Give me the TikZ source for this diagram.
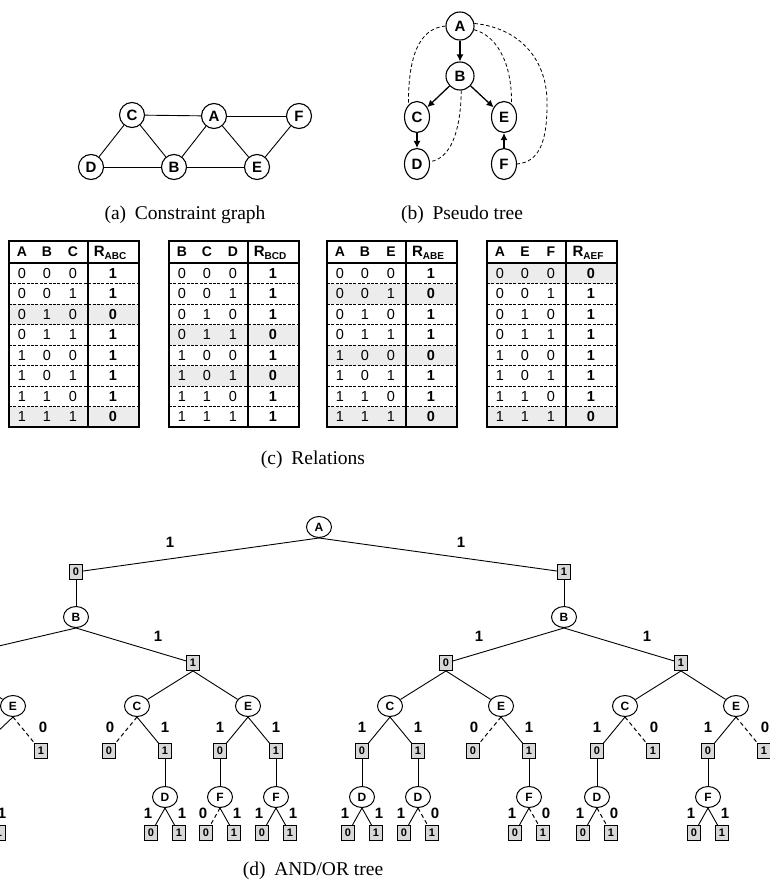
\documentclass[tikz,border=0pt]{standalone}
\usepackage{fontspec}
\setmainfont{Liberation Serif}
\newfontfamily\arial{Liberation Sans}
\usetikzlibrary{shapes.geometric,arrows.meta}
\definecolor{shadegray}{RGB}{236,236,236}
\definecolor{andgray}{RGB}{216,216,216}
\tikzset{
  gn/.style={circle, draw, line width=1.1pt, minimum size=25pt, inner sep=0pt, font=\arial\bfseries\fontsize{15}{15}\selectfont},
  pn/.style={ellipse, draw, line width=1.1pt, minimum width=25pt, minimum height=31pt, inner sep=0pt, font=\arial\bfseries\fontsize{15}{15}\selectfont},
  pnr/.style={pn, minimum width=28pt, minimum height=28pt},
  gline/.style={line width=0.9pt},
  parr/.style={line width=1.3pt, -{Latex[length=7pt,width=7pt]}},
  pdash/.style={line width=0.8pt, dash pattern=on 3.5pt off 2.5pt},
  orn/.style={ellipse, draw, line width=1pt, minimum width=25pt, minimum height=21pt, inner sep=0pt, font=\arial\bfseries\fontsize{12}{12}\selectfont},
  andn/.style={rectangle, draw, line width=0.9pt, fill=andgray, minimum width=13pt, minimum height=15pt, inner sep=0pt, font=\arial\bfseries\fontsize{11}{11}\selectfont},
  elab/.style={inner sep=0pt, font=\arial\bfseries\fontsize{15}{15}\selectfont},
  tedge/.style={line width=0.9pt},
  zedge/.style={line width=1pt, dash pattern=on 4pt off 3pt},
  captext/.style={inner sep=0pt, anchor=base, font=\fontsize{19.5}{19.5}\selectfont},
  hdr/.style={inner sep=0pt, font=\arial\bfseries\fontsize{14}{14}\selectfont},
  cell/.style={inner sep=0pt, font=\arial\fontsize{14.5}{14.5}\selectfont},
  rv/.style={inner sep=0pt, font=\arial\bfseries\fontsize{14.5}{14.5}\selectfont},
  rowline/.style={line width=0.8pt, dash pattern=on 3pt off 1.4pt},
}
% relation table: #1 name, #2 left x, #3-#5 headers, #6 subscript, #7 R values
\newcommand{\reltab}[7]{%
\begin{scope}[shift={(#2,0)}]
  \foreach \v [count=\i from 0] in {#7}{%
    \ifnum\v=0 \fill[shadegray] (0,{263+\i*20.5}) rectangle (130,{263+(\i+1)*20.5});\fi
    \pgfmathtruncatemacro{\ba}{\i/4}
    \pgfmathtruncatemacro{\bb}{mod(\i,4)/2}
    \pgfmathtruncatemacro{\bc}{mod(\i,2)}
    \node[cell] (#1-\i-a) at (13,{263+(\i+0.5)*20.5}) {\ba};
    \node[cell] (#1-\i-b) at (38,{263+(\i+0.5)*20.5}) {\bb};
    \node[cell] (#1-\i-c) at (64,{263+(\i+0.5)*20.5}) {\bc};
    \node[rv] (#1-\i-r) at (104,{263+(\i+0.5)*20.5}) {\v};
  }
  \foreach \i in {1,...,7} \draw[rowline] (0,{263+\i*20.5}) -- (130,{263+\i*20.5});
  \draw[line width=1.2pt] (0,263) -- (130,263);
  \draw[line width=1.6pt] (79,241) -- (79,427);
  \draw[line width=1.8pt] (0,241) rectangle (130,427);
  \node[hdr] (#1-ha) at (13,252) {#3};
  \node[hdr] (#1-hb) at (38,252) {#4};
  \node[hdr] (#1-hc) at (64,252) {#5};
  \node[hdr] (#1-hr) at (101,253) {\fontsize{15}{15}\selectfont R\raisebox{-3.5pt}{\fontsize{10}{10}\selectfont #6}};
\end{scope}}
% leaf pair under an OR node: #1 OR node name, #2 x, #3 left weight, #4 right weight
\newcommand{\leafpair}[4]{%
  \node[andn] (#1-0) at ({#2-14},833) {0};
  \node[andn] (#1-1) at ({#2+14},833) {1};
  \ifnum#3=0 \draw[zedge] (#1.south) -- (#1-0);\else \draw[tedge] (#1.south) -- (#1-0);\fi
  \ifnum#4=0 \draw[zedge] (#1.south) -- (#1-1);\else \draw[tedge] (#1.south) -- (#1-1);\fi
  \node[elab] (#1-l0) at ({#2-17},813) {#3};
  \node[elab] (#1-l1) at ({#2+17},813) {#4};
}
\begin{document}
\begin{tikzpicture}[x=1pt,y=-1pt]
\useasboundingbox (0,0) rectangle (770,883);
\clip (0,0) rectangle (770,883);

% ---------- (a) constraint graph ----------
\node[gn] (ga) at (214,116) {A};
\node[gn] (gc) at (132,115) {C};
\node[gn] (gf) at (299,116) {F};
\node[gn] (gd) at (91,167) {D};
\node[gn] (gb) at (174,167) {B};
\node[gn] (ge) at (257,167) {E};
\draw[gline] (gc) -- (ga);
\draw[gline] (ga) -- (gf);
\draw[gline] (gc) -- (gd);
\draw[gline] (gc) -- (gb);
\draw[gline] (ga) -- (gb);
\draw[gline] (ga) -- (ge);
\draw[gline] (gf) -- (ge);
\draw[gline] (gd) -- (gb);
\draw[gline] (gb) -- (ge);
\node[captext] (capa) at (185,219) {(a)\hspace{0.45em}Constraint graph};

% ---------- (b) pseudo tree ----------
\node[pnr] (pa) at (460,26) {A};
\node[pnr] (pb) at (460,76) {B};
\node[pn] (pc) at (417,117) {C};
\node[pn] (pe) at (504,117) {E};
\node[pn] (pd) at (417,164) {D};
\node[pn] (pf) at (504,164) {F};
\draw[parr] (pa) -- (pb);
\draw[parr] (pb) -- (pc);
\draw[parr] (pb) -- (pe);
\draw[parr] (pc) -- (pd);
\draw[parr] (pf) -- (pe);
\draw[pdash] (pa.west) .. controls (425,28) and (408,45) .. (pc.125);
\draw[pdash] (pb.-85) .. controls (461,120) and (455,158) .. (pd.10);
\draw[pdash] (pa.-15) .. controls (495,35) and (512,60) .. (pe.60);
\draw[pdash] (pa.10) .. controls (520,28) and (548,60) .. (547,105) .. controls (547,140) and (540,162) .. (pf.east);
\node[captext] (capb) at (462,219) {(b)\hspace{0.45em}Pseudo tree};

% ---------- (c) relations ----------
\reltab{t1}{9}{A}{B}{C}{ABC}{1,1,0,1,1,1,1,0}
\reltab{t2}{169}{B}{C}{D}{BCD}{1,1,1,0,1,0,1,1}
\reltab{t3}{327}{A}{B}{E}{ABE}{1,0,1,1,0,1,1,0}
\reltab{t4}{487}{A}{E}{F}{AEF}{0,1,1,1,1,1,1,0}
\node[captext] (capc) at (313,464) {(c)\hspace{0.45em}Relations};

% ---------- (d) AND/OR tree ----------
\node[orn] (tA) at (319,527) {A};
\node[andn] (tA0) at (76,572) {0};
\node[andn] (tA1) at (564,572) {1};
\draw[tedge] (tA.south) -- (tA0);
\draw[tedge] (tA.south) -- (tA1);
\node[elab] (lA0) at (170,542) {1};
\node[elab] (lA1) at (461,542) {1};

\node[orn] (tB0) at (76,617) {B};
\node[orn] (tB1) at (564,617) {B};
\draw[tedge] (tA0) -- (tB0);
\draw[tedge] (tA1) -- (tB1);
\coordinate (tB00n) at (-42,655.5);
\coordinate (tB00s) at (-42,670.5);
\node[andn] (tB01) at (193,663) {1};
\node[andn] (tB10) at (446,663) {0};
\node[andn] (tB11) at (681,663) {1};
\draw[tedge] (tB0.south) -- (tB00n);
\draw[tedge] (tB0.south) -- (tB01);
\draw[tedge] (tB1.south) -- (tB10);
\draw[tedge] (tB1.south) -- (tB11);
\node[elab] (lB01) at (158,636) {1};
\node[elab] (lB10) at (479,636) {1};
\node[elab] (lB11) at (647,636) {1};

\node[orn] (tE00) at (13,706) {E};
\node[orn] (tC01) at (137,706) {C};
\node[orn] (tE01) at (248,706) {E};
\node[orn] (tC10) at (390,706) {C};
\node[orn] (tE10) at (501,706) {E};
\node[orn] (tC11) at (625,706) {C};
\node[orn] (tE11) at (736,706) {E};
\draw[tedge] (tB00s) -- (tE00);
\draw[tedge] (tB01.south) -- (tC01);
\draw[tedge] (tB01.south) -- (tE01);
\draw[tedge] (tB10.south) -- (tC10);
\draw[tedge] (tB10.south) -- (tE10);
\draw[tedge] (tB11.south) -- (tC11);
\draw[tedge] (tB11.south) -- (tE11);

% AND nodes under C/E
\coordinate (tE00a0n) at (-15,743.5);
\node[andn] (tE00a1) at (41,751) {1};
\draw[tedge] (tE00.south) -- (tE00a0n);
\draw[zedge] (tE00.south) -- (tE00a1);
\node[elab] (lE00a1) at (43,727) {0};

\node[andn] (tC01a0) at (109,751) {0};
\node[andn] (tC01a1) at (165,751) {1};
\draw[zedge] (tC01.south) -- (tC01a0);
\draw[tedge] (tC01.south) -- (tC01a1);
\node[elab] (lC01a0) at (110,727) {0};
\node[elab] (lC01a1) at (165,727) {1};

\node[andn] (tE01a0) at (220,751) {0};
\node[andn] (tE01a1) at (276,751) {1};
\draw[tedge] (tE01.south) -- (tE01a0);
\draw[tedge] (tE01.south) -- (tE01a1);
\node[elab] (lE01a0) at (220,727) {1};
\node[elab] (lE01a1) at (276,727) {1};

\node[andn] (tC10a0) at (362,751) {0};
\node[andn] (tC10a1) at (418,751) {1};
\draw[tedge] (tC10.south) -- (tC10a0);
\draw[tedge] (tC10.south) -- (tC10a1);
\node[elab] (lC10a0) at (362,727) {1};
\node[elab] (lC10a1) at (418,727) {1};

\node[andn] (tE10a0) at (473,751) {0};
\node[andn] (tE10a1) at (529,751) {1};
\draw[zedge] (tE10.south) -- (tE10a0);
\draw[tedge] (tE10.south) -- (tE10a1);
\node[elab] (lE10a0) at (474,727) {0};
\node[elab] (lE10a1) at (529,727) {1};

\node[andn] (tC11a0) at (597,751) {0};
\node[andn] (tC11a1) at (653,751) {1};
\draw[tedge] (tC11.south) -- (tC11a0);
\draw[zedge] (tC11.south) -- (tC11a1);
\node[elab] (lC11a0) at (597,727) {1};
\node[elab] (lC11a1) at (654,727) {0};

\node[andn] (tE11a0) at (708,751) {0};
\node[andn] (tE11a1) at (764,751) {1};
\draw[tedge] (tE11.south) -- (tE11a0);
\draw[zedge] (tE11.south) -- (tE11a1);
\node[elab] (lE11a0) at (708,727) {1};
\node[elab] (lE11a1) at (765,727) {0};

% OR nodes D/F
\node[orn] (tD011) at (165,797) {D};
\node[orn] (tF010) at (220,797) {F};
\node[orn] (tF011) at (276,797) {F};
\node[orn] (tD100) at (362,797) {D};
\node[orn] (tD101) at (418,797) {D};
\node[orn] (tF101) at (529,797) {F};
\node[orn] (tD110) at (597,797) {D};
\node[orn] (tF110) at (708,797) {F};
\draw[tedge] (tC01a1) -- (tD011);
\draw[tedge] (tE01a0) -- (tF010);
\draw[tedge] (tE01a1) -- (tF011);
\draw[tedge] (tC10a0) -- (tD100);
\draw[tedge] (tC10a1) -- (tD101);
\draw[tedge] (tE10a1) -- (tF101);
\draw[tedge] (tC11a0) -- (tD110);
\draw[tedge] (tE11a0) -- (tF110);

% leaves
\node[andn] (tF000a1) at (-1,833) {1};
\node[elab] (lF000a1) at (2,813) {1};
\leafpair{tD011}{165}{1}{1}
\leafpair{tF010}{220}{0}{1}
\leafpair{tF011}{276}{1}{1}
\leafpair{tD100}{362}{1}{1}
\leafpair{tD101}{418}{1}{0}
\leafpair{tF101}{529}{1}{0}
\leafpair{tD110}{597}{1}{0}
\leafpair{tF110}{708}{1}{1}

\node[captext] (capd) at (313,875) {(d)\hspace{0.45em}AND/OR tree};
\end{tikzpicture}
\end{document}
